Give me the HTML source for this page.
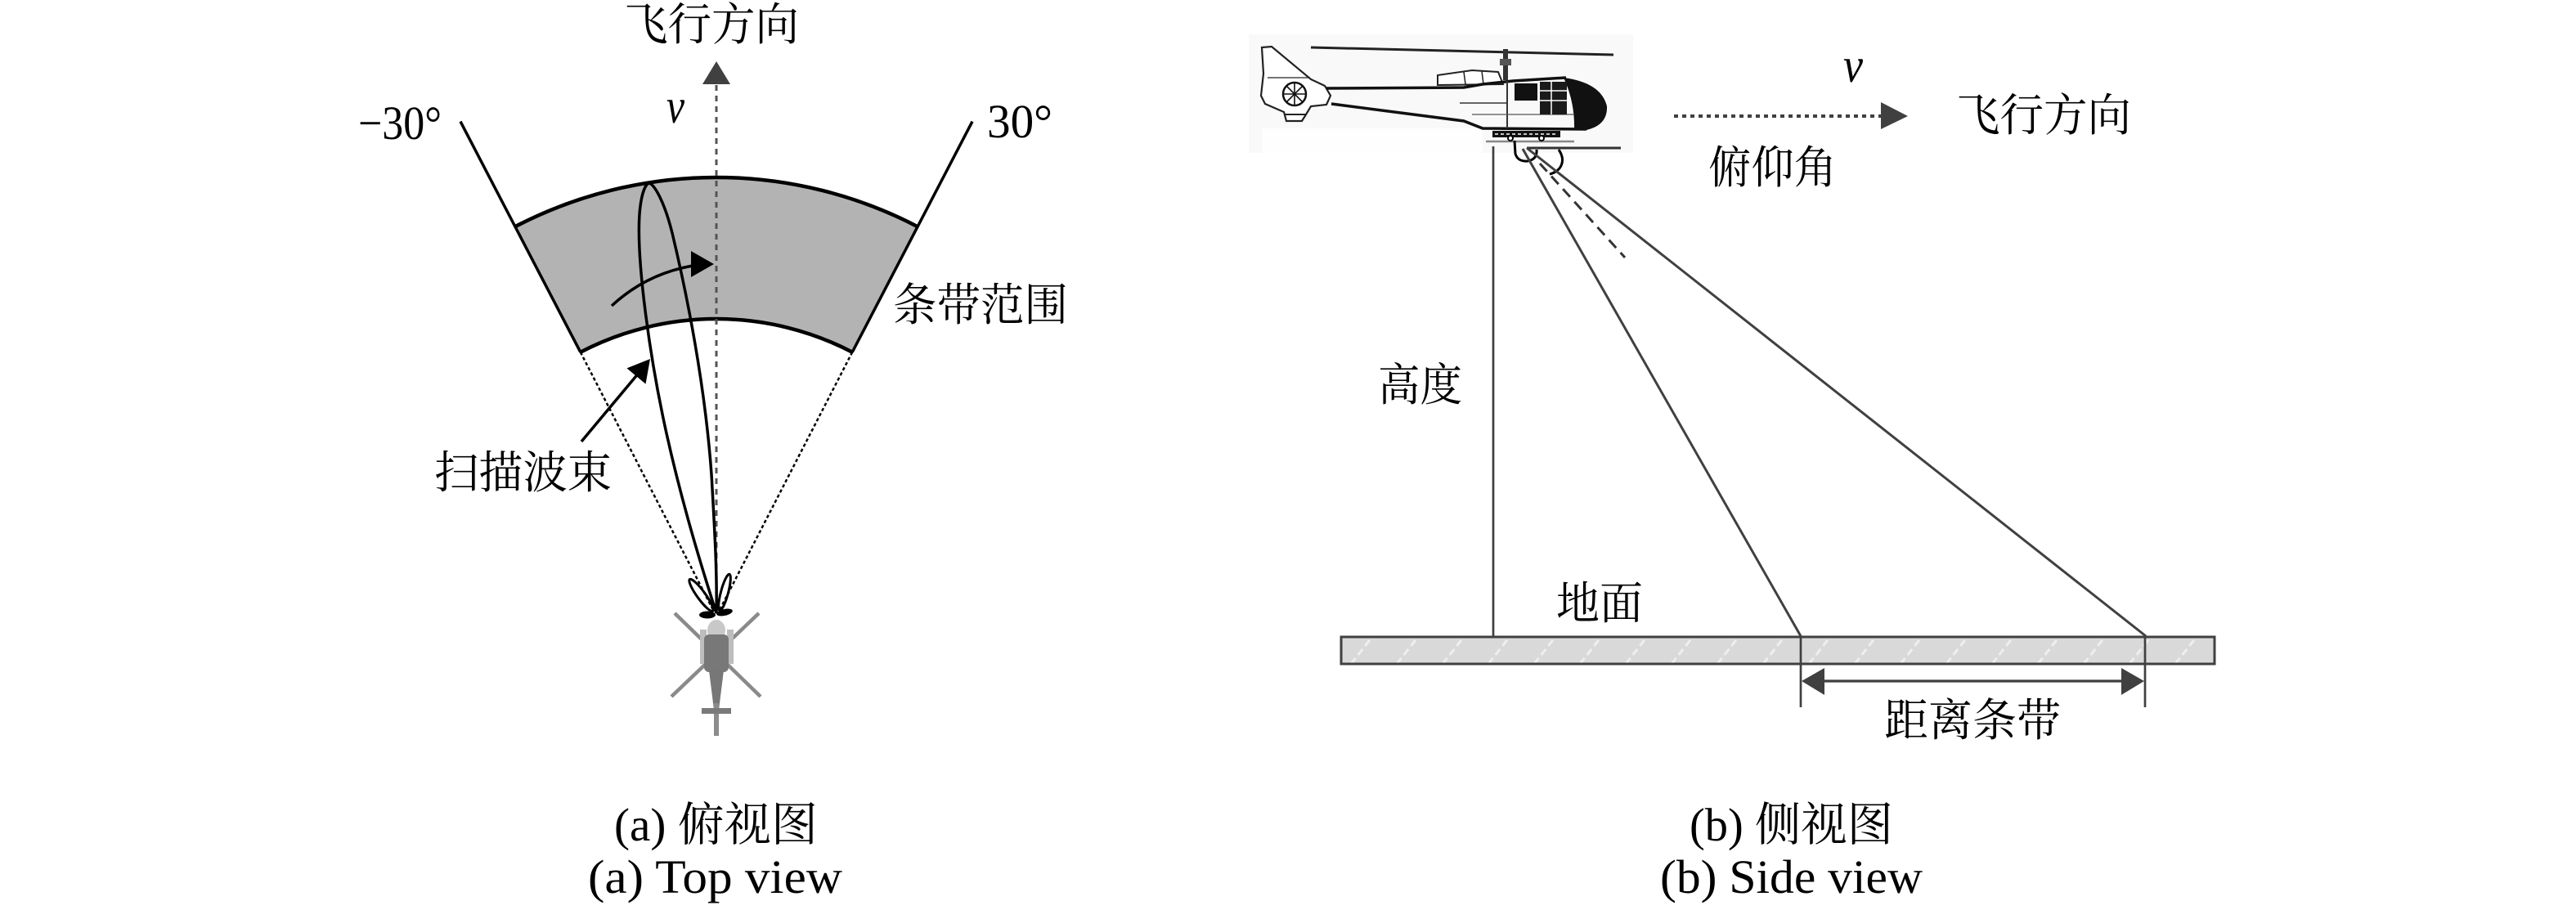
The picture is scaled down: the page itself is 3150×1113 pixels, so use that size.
<!DOCTYPE html>
<html><head><meta charset="utf-8">
<style>
html,body{margin:0;padding:0;background:#fff;}
svg{display:block;}
.cj{font-family:"Liberation Serif","Noto Serif CJK SC","Noto Sans CJK SC",serif;font-size:55px;fill:#000;}
.lt{font-family:"Liberation Serif",serif;fill:#000;}
</style></head><body>
<svg width="3150" height="1113" viewBox="0 0 3150 1113" xmlns="http://www.w3.org/2000/svg">
<defs>
<pattern id="hatch" patternUnits="userSpaceOnUse" x="1640" y="779" width="56" height="33">
<rect width="56" height="33" fill="#d9d9d9"/>
<line x1="12" y1="33" x2="38" y2="0" stroke="#efefef" stroke-width="3" stroke-dasharray="9 5"/>
</pattern>
</defs>
<rect width="3150" height="1113" fill="#fff"/>

<!-- ============ LEFT: top view ============ -->
<path d="M629.9,277.2 A533,533 0 0 1 1122.1,277.2 L1042.2,430.7 A360,360 0 0 0 709.8,430.7 Z" fill="#b3b3b3"/>
<path d="M629.9,277.2 A533,533 0 0 1 1122.1,277.2" fill="none" stroke="#000" stroke-width="4.5"/>
<path d="M709.8,430.7 A360,360 0 0 1 1042.2,430.7" fill="none" stroke="#000" stroke-width="4.5"/>
<path d="M563,148.6 L709.8,430.7" fill="none" stroke="#000" stroke-width="3.5"/>
<path d="M1189,148.6 L1042.2,430.7" fill="none" stroke="#000" stroke-width="3.5"/>
<path d="M709.8,430.7 L872,746" fill="none" stroke="#000" stroke-width="2.5" stroke-dasharray="4 3"/>
<path d="M1042.2,430.7 L880,746" fill="none" stroke="#000" stroke-width="2.5" stroke-dasharray="4 3"/>
<line x1="876" y1="104" x2="876" y2="748" stroke="#555" stroke-width="3" stroke-dasharray="7 6"/>
<polygon points="876,75 859,103 893,103" fill="#404040"/>

<path d="M876,750 C860,700 835,620 815,530 C795,440 778,320 782,262 C784,235 790,224 794,224 C800,226 812,245 822,285 C840,360 862,470 870,580 C874,650 877,700 876,750 Z" fill="none" stroke="#000" stroke-width="3.5"/>
<ellipse cx="857.5" cy="728" rx="5" ry="24" transform="rotate(-36 857.5 728)" fill="none" stroke="#000" stroke-width="3"/>
<ellipse cx="886" cy="724.5" rx="4.5" ry="23" transform="rotate(15 886 724.5)" fill="none" stroke="#000" stroke-width="3"/>
<ellipse cx="865" cy="752" rx="10" ry="4.5" fill="#000"/>
<ellipse cx="886" cy="749" rx="10" ry="4" transform="rotate(-12 886 749)" fill="#000"/>

<path d="M748,374 Q790,335 847,325" fill="none" stroke="#000" stroke-width="3.5"/>
<polygon points="873,323 845,307 845,339" fill="#000"/>
<line x1="711" y1="540" x2="782" y2="455" stroke="#000" stroke-width="3.5"/>
<polygon points="795,439 766.5,450.4 789.5,469.6" fill="#000"/>

<!-- helicopter top view -->
<g stroke="#8a8a8a" stroke-width="4.5" stroke-linecap="butt">
<line x1="825" y1="750" x2="930" y2="852"/>
<line x1="928" y1="750" x2="821" y2="852"/>
</g>
<rect x="856" y="770" width="8" height="42" fill="#bdbdbd"/>
<rect x="889" y="770" width="8" height="42" fill="#bdbdbd"/>
<ellipse cx="876" cy="771" rx="11" ry="13" fill="#c8c8c8"/>
<rect x="861" y="776" width="30" height="46" rx="6" fill="#787878"/>
<path d="M867,820 L885,820 L879,868 L873,868 Z" fill="#777"/>
<rect x="873" y="860" width="6" height="40" fill="#8c8c8c"/>
<rect x="858" y="866" width="36" height="7" fill="#7a7a7a"/>

<!-- left labels -->
<text class="cj" x="763" y="49" textLength="214" lengthAdjust="spacingAndGlyphs">飞行方向</text>
<text class="lt" x="815" y="150" font-size="60" font-style="italic" textLength="22" lengthAdjust="spacingAndGlyphs">v</text>
<text class="lt" x="438" y="170" font-size="58" textLength="102" lengthAdjust="spacingAndGlyphs">−30°</text>
<text class="lt" x="1207" y="168" font-size="58" textLength="80" lengthAdjust="spacingAndGlyphs">30°</text>
<text class="cj" x="1092" y="392" textLength="214" lengthAdjust="spacingAndGlyphs">条带范围</text>
<text class="cj" x="531" y="597" textLength="217" lengthAdjust="spacingAndGlyphs">扫描波束</text>

<!-- ============ RIGHT: side view ============ -->
<rect x="1527" y="42" width="470" height="145" fill="#f9f9f9"/>
<rect x="1543" y="157" width="270" height="30" fill="#fefefe"/>
<line x1="1603" y1="58" x2="1973" y2="67" stroke="#222" stroke-width="3"/>
<rect x="1838" y="60" width="6" height="38" fill="#333"/>
<rect x="1834" y="72" width="14" height="8" fill="#555"/>
<path d="M1758,92 L1800,86 L1832,88 L1838,103 L1758,104 Z" fill="#fff" stroke="#222" stroke-width="2"/>
<line x1="1790" y1="88" x2="1792" y2="103" stroke="#222" stroke-width="1.5"/>
<line x1="1812" y1="87" x2="1814" y2="103" stroke="#222" stroke-width="1.5"/>
<path d="M1543,58 L1555,57 L1603,97 L1620,105 L1627,117 L1622,128 L1603,130 L1597,140 L1592,148 L1573,148 L1570,137 L1547,127 L1542,117 L1545,90 Z" fill="#fff" stroke="#222" stroke-width="2.2"/>
<line x1="1550" y1="95" x2="1600" y2="95" stroke="#222" stroke-width="1.2"/>
<circle cx="1583" cy="115" r="14" fill="#fff" stroke="#111" stroke-width="2.5"/>
<g stroke="#111" stroke-width="1.6">
<line x1="1569" y1="115" x2="1597" y2="115"/><line x1="1583" y1="101" x2="1583" y2="129"/>
<line x1="1573" y1="105" x2="1593" y2="125"/><line x1="1593" y1="105" x2="1573" y2="125"/>
</g>
<line x1="1570" y1="140" x2="1597" y2="140" stroke="#222" stroke-width="2"/>
<path d="M1622,108 L1790,107 L1813,103 L1850,99 L1915,95" fill="none" stroke="#111" stroke-width="3.5"/>
<path d="M1628,127 L1790,148 L1813,157 L1940,158" fill="none" stroke="#111" stroke-width="3.5"/>
<path d="M1912,95 Q1958,101 1965,130 Q1966,153 1940,159 L1925,159 Q1926,125 1912,95 Z" fill="#111"/>
<line x1="1843" y1="99" x2="1843" y2="157" stroke="#333" stroke-width="2"/>
<line x1="1785" y1="126" x2="1843" y2="126" stroke="#333" stroke-width="1.5"/>
<line x1="1800" y1="140" x2="1925" y2="140" stroke="#555" stroke-width="1.2"/>
<rect x="1852" y="102" width="28" height="21" fill="#111"/>
<rect x="1883" y="100" width="33" height="40" fill="#1a1a1a"/>
<g stroke="#fff" stroke-width="1.5">
<line x1="1883" y1="111" x2="1916" y2="111"/><line x1="1883" y1="123" x2="1916" y2="123"/><line x1="1897" y1="100" x2="1897" y2="140"/>
</g>
<rect x="1825" y="160" width="83" height="8" fill="#111"/>
<line x1="1828" y1="164" x2="1905" y2="164" stroke="#fff" stroke-width="1.5" stroke-dasharray="4 3"/>
<line x1="1817" y1="173" x2="1925" y2="173" stroke="#888" stroke-width="2.5"/>
<circle cx="1847" cy="169" r="3" fill="#fff" stroke="#000" stroke-width="2"/>
<circle cx="1885" cy="169" r="3" fill="#fff" stroke="#000" stroke-width="2"/>
<path d="M1852,172 L1853,188 Q1856,198 1868,197 Q1880,195 1879,183" fill="none" stroke="#000" stroke-width="3"/>

<line x1="1826" y1="179" x2="1826" y2="778" stroke="#404040" stroke-width="2.7"/>
<line x1="1867" y1="181" x2="1982" y2="181" stroke="#333" stroke-width="3"/>
<path d="M1906,183 C1915,196 1910,209 1895,213" fill="none" stroke="#000" stroke-width="3"/>
<line x1="1862" y1="182" x2="2202" y2="778" stroke="#404040" stroke-width="3"/>
<line x1="1867" y1="181" x2="2624" y2="778" stroke="#404040" stroke-width="3"/>
<line x1="1883" y1="200" x2="1987" y2="315" stroke="#333" stroke-width="3" stroke-dasharray="13 8"/>

<line x1="2047" y1="142" x2="2300" y2="142" stroke="#404040" stroke-width="4" stroke-dasharray="5 5"/>
<polygon points="2300,125 2333,142 2300,158" fill="#404040"/>

<rect x="1640" y="779" width="1068" height="33" fill="url(#hatch)" stroke="#404040" stroke-width="3"/>
<line x1="2202" y1="778" x2="2202" y2="865" stroke="#404040" stroke-width="2.7"/>
<line x1="2623" y1="778" x2="2623" y2="865" stroke="#404040" stroke-width="2.7"/>
<line x1="2225" y1="833" x2="2600" y2="833" stroke="#404040" stroke-width="3.3"/>
<polygon points="2203,833 2231,817 2231,850" fill="#404040"/>
<polygon points="2622,833 2594,817 2594,850" fill="#404040"/>

<text class="lt" x="2254" y="100" font-size="60" font-style="italic" textLength="24" lengthAdjust="spacingAndGlyphs">v</text>
<text class="cj" x="2392" y="160" textLength="214" lengthAdjust="spacingAndGlyphs">飞行方向</text>
<text class="cj" x="2089" y="224" textLength="157" lengthAdjust="spacingAndGlyphs">俯仰角</text>
<text class="cj" x="1685" y="490" textLength="103" lengthAdjust="spacingAndGlyphs">高度</text>
<text class="cj" x="1903" y="757" textLength="106" lengthAdjust="spacingAndGlyphs">地面</text>
<text class="cj" x="2304" y="900" textLength="216" lengthAdjust="spacingAndGlyphs">距离条带</text>

<text class="lt" x="751" y="1028" font-size="57" textLength="249" lengthAdjust="spacingAndGlyphs" style="font-family:'Liberation Serif','Noto Serif CJK SC',serif">(a) 俯视图</text>
<text class="lt" x="719" y="1092" font-size="58" textLength="311" lengthAdjust="spacingAndGlyphs">(a) Top view</text>
<text class="lt" x="2066" y="1028" font-size="57" textLength="249" lengthAdjust="spacingAndGlyphs" style="font-family:'Liberation Serif','Noto Serif CJK SC',serif">(b) 侧视图</text>
<text class="lt" x="2030" y="1092" font-size="58" textLength="321" lengthAdjust="spacingAndGlyphs">(b) Side view</text>
</svg>
</body></html>
